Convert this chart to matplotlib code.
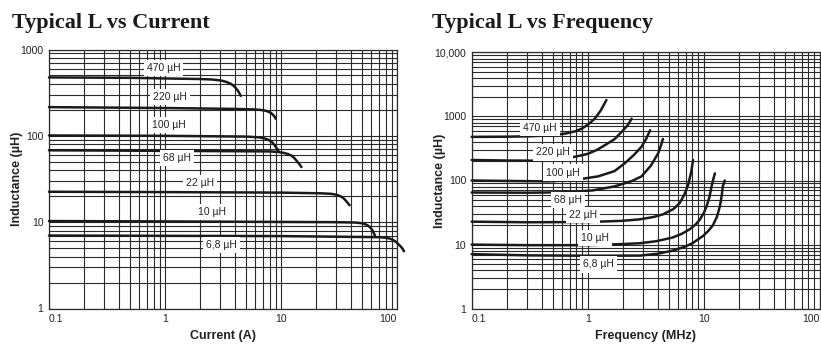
import matplotlib
matplotlib.use("Agg")
import matplotlib.pyplot as plt
from matplotlib.ticker import FixedLocator, LogLocator, NullFormatter

plt.rcParams['font.family'] = ['Liberation Sans', 'DejaVu Sans']

# ---------------- data: L vs Current ----------------
cur_470_x = [0.1, 0.5, 1, 2, 2.5, 2.8, 3.1, 3.4, 3.7, 3.9, 4.1, 4.3, 4.5]
cur_470_y = [475, 470, 462, 455, 450, 443, 435, 420, 400, 380, 355, 325, 290]
cur_220_x = [0.1, 1, 4, 6.0, 6.8, 7.4, 7.8, 8.2, 8.5, 8.8, 9.0]
cur_220_y = [215, 210, 205, 202, 199, 195, 190, 184, 176, 167, 158]
cur_100_x = [0.1, 1, 5, 6.5, 7.3, 7.9, 8.4, 8.8, 9.1, 9.5]
cur_100_y = [101, 100, 98, 96, 93, 89, 84, 78, 73, 68]
cur_68_x = [0.1, 1, 8, 9.5, 10.5, 11.5, 12.3, 13.0, 13.7, 14.4, 15]
cur_68_y = [68, 67, 66, 65, 63.5, 61.5, 59, 55.5, 51, 47, 43.5]
cur_22_x = [0.1, 1, 10, 22, 27, 30, 32.5, 34.5, 36, 37.5, 39]
cur_22_y = [22.5, 22.3, 22, 21.6, 21.3, 20.8, 20.0, 19.0, 17.9, 16.8, 15.7]
cur_10_x = [0.1, 1, 30, 44, 50, 54, 57, 59.5, 61.5, 63, 64.5]
cur_10_y = [10.3, 10.2, 10, 9.9, 9.7, 9.4, 9.0, 8.5, 8.0, 7.5, 7.0]
cur_6_8_x = [0.1, 10, 70, 80, 87, 93, 98, 103, 108, 112, 115]
cur_6_8_y = [7.0, 6.9, 6.7, 6.6, 6.45, 6.2, 5.9, 5.55, 5.2, 4.9, 4.6]

cur_labels = ["470 µH", "220 µH", "100 µH", "68 µH", "22 µH", "10 µH", "6,8 µH"]
cur_label_x = [0.97, 1.10, 1.07, 1.26, 2.0, 2.53, 3.08]
cur_label_y = [607, 280, 134, 55, 28.7, 13.2, 5.44]

# ---------------- data: L vs Frequency ----------------
frq_470_x = [0.1, 0.2, 0.33, 0.5, 0.64, 0.78, 0.89, 1.0, 1.15, 1.3, 1.45]
frq_470_y = [479, 482, 491, 510, 539, 585, 644, 740, 918, 1250, 1800]
frq_220_x = [0.1, 0.2, 0.33, 0.55, 0.78, 1.0, 1.2, 1.41, 1.7, 1.96, 2.2, 2.39]
frq_220_y = [209, 205, 204, 215, 235, 260, 300, 357, 440, 573, 720, 918]
frq_100_x = [0.1, 0.25, 0.46, 0.8, 1.23, 1.7, 2.09, 2.5, 2.91, 3.2, 3.45]
frq_100_y = [100, 98, 97, 103, 116, 140, 186, 250, 336, 450, 608]
frq_68_x = [0.1, 0.3, 0.64, 1.1, 1.71, 2.4, 2.91, 3.5, 4.05, 4.3, 4.45]
frq_68_y = [65, 64.5, 65.5, 70, 81, 98, 116, 170, 265, 360, 445]
frq_22_x = [0.1, 0.3, 1.0, 2.0, 2.82, 3.7, 4.47, 5.5, 6.23, 6.8, 7.34, 7.8, 8.1]
frq_22_y = [22.8, 22.3, 22.5, 23.5, 24.8, 27, 29.7, 36, 44.8, 60, 85, 135, 209]
frq_10_x = [0.1, 0.3, 1, 2, 2.82, 3.9, 5.4, 6.5, 7.59, 8.5, 9.3, 10.0, 10.6, 11.2, 11.7, 12.1, 12.5]
frq_10_y = [10.0, 9.8, 9.8, 10.2, 10.5, 11.3, 12.9, 14.8, 17.4, 20.5, 24.8, 31, 39.8, 55, 81, 105, 129]
frq_6_8_x = [0.1, 0.3, 1, 2.82, 4.0, 5.4, 6.8, 8.0, 9.9, 11.0, 12.0, 13.0, 13.8, 14.3, 14.6, 15.2]
frq_6_8_y = [7.1, 6.8, 6.7, 6.74, 7.2, 8.05, 9.2, 10.5, 13.7, 16.5, 20, 27, 39.8, 58, 81, 100]

frq_labels = ["470 µH", "220 µH", "100 µH", "68 µH", "22 µH", "10 µH", "6,8 µH"]
frq_label_x = [0.388, 0.505, 0.615, 0.679, 0.914, 1.15, 1.23]
frq_label_y = [667, 274, 133, 49, 28.6, 12.6, 4.9]

# tick labels
x_ticks = [0.1, 1, 10, 100]
x_ticklabels = ["0.1", "1", "10", "100"]
cur_y_ticks = [1, 10, 100, 1000]
cur_y_ticklabels = ["1", "10", "100", "1000"]
frq_y_ticks = [1, 10, 100, 1000, 10000]
frq_y_ticklabels = ["1", "10", "100", "1000", "10,000"]

fig = plt.figure(figsize=(8.21, 3.44), dpi=100)
fig.patch.set_facecolor('white')

ax1 = fig.add_axes([49/821, 1-308.5/344, 348/821, 259/344])
ax2 = fig.add_axes([471.7/821, 1-308.7/344, 348.0/821, 256.4/344])

GRID_C = '#2a2a2a'
LINE_C = '#1a1a1a'
TXT_C = '#222222'

def style(ax, xlim, ylim, yt, ytl, xlabel, ylab_x):
    ax.set_xscale('log')
    ax.set_yscale('log')
    ax.set_xlim(*xlim)
    ax.set_ylim(*ylim)
    ax.xaxis.set_major_locator(FixedLocator(x_ticks))
    ax.yaxis.set_major_locator(FixedLocator(yt))
    ax.xaxis.set_minor_locator(LogLocator(base=10, subs=range(2, 10), numticks=20))
    ax.yaxis.set_minor_locator(LogLocator(base=10, subs=range(2, 10), numticks=20))
    ax.xaxis.set_minor_formatter(NullFormatter())
    ax.yaxis.set_minor_formatter(NullFormatter())
    ax.set_xticklabels(x_ticklabels)
    ax.set_yticklabels(ytl)
    ax.tick_params(which='both', length=0, labelsize=7.5, colors=TXT_C)
    ax.tick_params(axis='x', pad=4)
    ax.tick_params(axis='y', pad=4)
    xl = ax.get_xticklabels()
    xl[0].set_ha('left')
    xl[-1].set_ha('right')
    ax.grid(True, which='both', color=GRID_C, linewidth=0.8)
    for s in ax.spines.values():
        s.set_color(GRID_C)
        s.set_linewidth(0.9)
    ax.set_xlabel(xlabel, fontsize=9, fontweight='bold', labelpad=4, color=TXT_C)
    ax.set_ylabel("Inductance (µH)", fontsize=9, fontweight='bold', color=TXT_C)
    ax.yaxis.set_label_coords(ylab_x, 0.5)
    ax.set_axisbelow(True)

style(ax1, (0.1, 100), (1, 1000), cur_y_ticks, cur_y_ticklabels, "Current (A)", -0.075)
style(ax2, (0.1, 100), (1, 10000), frq_y_ticks, frq_y_ticklabels, "Frequency (MHz)", -0.075)

cur_series = [(cur_470_x, cur_470_y), (cur_220_x, cur_220_y), (cur_100_x, cur_100_y),
              (cur_68_x, cur_68_y), (cur_22_x, cur_22_y), (cur_10_x, cur_10_y),
              (cur_6_8_x, cur_6_8_y)]
frq_series = [(frq_470_x, frq_470_y), (frq_220_x, frq_220_y), (frq_100_x, frq_100_y),
              (frq_68_x, frq_68_y), (frq_22_x, frq_22_y), (frq_10_x, frq_10_y),
              (frq_6_8_x, frq_6_8_y)]

for xs, ys in cur_series:
    ax1.plot(xs, ys, color=LINE_C, linewidth=1.8, solid_capstyle='round',
             solid_joinstyle='round', clip_on=False, zorder=3)
for xs, ys in frq_series:
    ax2.plot(xs, ys, color=LINE_C, linewidth=1.8, solid_capstyle='round',
             solid_joinstyle='round', clip_on=False, zorder=3)

def labels(ax, names, lx, ly):
    for n, x, y in zip(names, lx, ly):
        ax.text(x, y, n, fontsize=7.5, ha='center', va='center', color=TXT_C, zorder=4,
                bbox=dict(boxstyle='square,pad=0.3', facecolor='white', edgecolor='none'))

labels(ax1, cur_labels, cur_label_x, cur_label_y)
labels(ax2, frq_labels, frq_label_x, frq_label_y)

fig.text(12/821, 1-23/344, "Typical L vs Current", fontsize=16, fontweight='bold',
         family=['Liberation Serif', 'DejaVu Serif'], va='center', ha='left', color='#1a1a1a')
fig.text(431.5/821, 1-23/344, "Typical L vs Frequency", fontsize=16, fontweight='bold',
         family=['Liberation Serif', 'DejaVu Serif'], va='center', ha='left', color='#1a1a1a')

fig.savefig("out.png", dpi=100, facecolor='white')
